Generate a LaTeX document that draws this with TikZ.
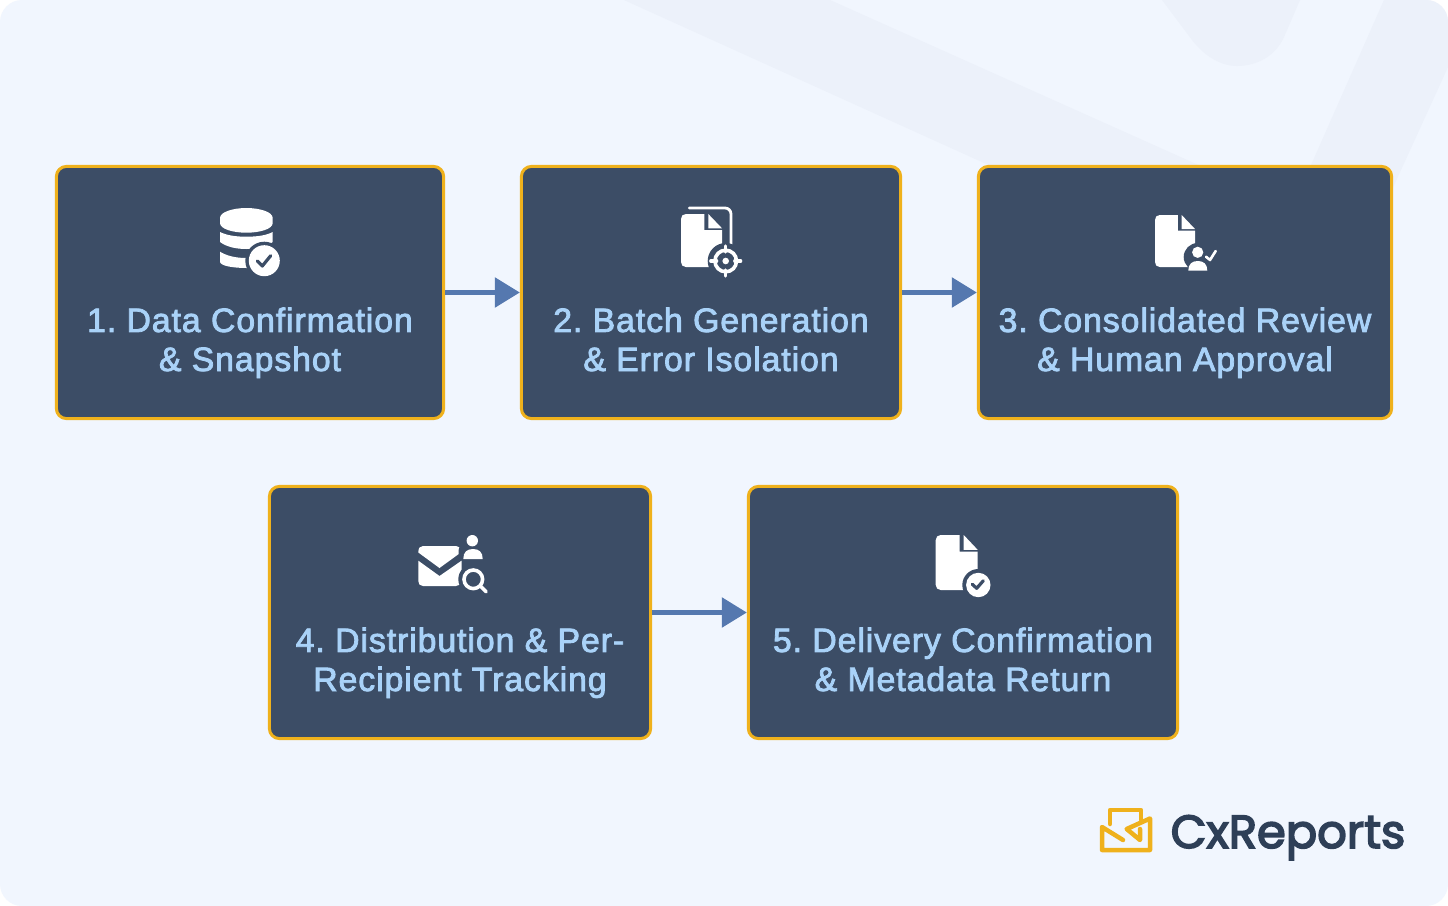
\documentclass[tikz,border=0pt]{standalone}
\usepackage{fontspec}
\usepackage{tikz}
\usetikzlibrary{arrows.meta}
\setmainfont{Liberation Sans}[FakeBold=2.4,LetterSpace=2.8]
\newfontfamily\logofont{Poppins}[FakeBold=3.5]
\definecolor{pagebg}{HTML}{F1F6FE}
\definecolor{pageband}{HTML}{ECF1FA}
\definecolor{boxfill}{HTML}{3C4D66}
\definecolor{boxedge}{HTML}{EFB11C}
\definecolor{boxtext}{HTML}{A9D2F8}
\definecolor{flowblue}{HTML}{5578AF}
\definecolor{logotext}{HTML}{2E3F57}
\tikzset{
  stepbox/.style={draw=boxedge, fill=boxfill, line width=0.03cm, rounded corners=0.1cm, minimum height=2.52cm},
  steplabel/.style={text=boxtext, font=\fontsize{9.6}{11.1}\selectfont\frenchspacing, align=center, inner sep=0pt, anchor=base},
  flow/.style={draw=flowblue, line width=0.053cm, -{Triangle[length=0.25cm,width=0.29cm]}},
  sheet/.style={fill=white, draw=none},
  cutout/.style={fill=boxfill, draw=none},
  tick/.style={draw=boxfill, line width=0.032cm, line cap=round, line join=round},
  logoline/.style={draw=boxedge, line width=0.045cm, line cap=round, line join=round}
}
% page of a document, w and h in px
\newcommand{\docsheet}[4]{
  \begin{scope}[shift={(#1,#2)}, xscale=#3/42, yscale=#4/53]
    \fill[sheet] (5,0) -- (24,0) -- (24,16) -- (42,16) -- (42,48) .. controls (42,51) and (40,53) .. (37,53)
      -- (5,53) .. controls (2,53) and (0,51) .. (0,48) -- (0,5) .. controls (0,2) and (2,0) .. (5,0) -- cycle;
    \fill[sheet] (28,0) -- (42,14.3) -- (28,14.3) -- cycle;
  \end{scope}
}
\begin{document}
\begin{tikzpicture}[x=0.01cm, y=-0.01cm]
  \useasboundingbox (0,0) rectangle (1448,906);
  % page and its faint bands
  \fill[white] (0,0) rectangle (1448,906);
  \begin{scope}
    \clip[rounded corners=0.22cm] (0,0) rectangle (1448,906);
    \fill[pagebg] (0,0) rectangle (1448,906);
    \fill[pageband] (624,0) -- (830,0) -- (1310,215) -- (1099,215) -- cycle;
    \fill[pageband] (1162,0) -- (1192,40) .. controls (1205,57) and (1222,66) .. (1237,66)
      .. controls (1258,66) and (1276,55) .. (1284,37) -- (1300,0) -- cycle;
    \fill[pageband] (1384,0) -- (1448,0) -- (1448,67) -- (1385,205) -- (1300,190) -- cycle;
  \end{scope}
  % boxes
  \node[stepbox, minimum width=3.87cm] (confirm) at (250,292.5) {};
  \node[stepbox, minimum width=3.79cm] (batch) at (711,292.5) {};
  \node[stepbox, minimum width=4.13cm] (review) at (1185,292.5) {};
  \node[stepbox, minimum width=3.81cm] (distrib) at (460,612.5) {};
  \node[stepbox, minimum width=4.29cm] (delivery) at (963,612.5) {};
  \draw[flow] (confirm) -- (batch);
  \draw[flow] (batch) -- (review);
  \draw[flow] (distrib) -- (delivery);
  % labels
  \node[steplabel] (confirmtext) at (250,371) {1. Data Confirmation\\\& Snapshot};
  \node[steplabel] (batchtext) at (711,371) {2. Batch Generation\\\& Error Isolation};
  \node[steplabel] (reviewtext) at (1185,371) {3. Consolidated Review\\\& Human Approval};
  \node[steplabel] (distribtext) at (460,691) {4. Distribution \& Per-\\Recipient Tracking};
  \node[steplabel] (deliverytext) at (963,691) {5. Delivery Confirmation\\\& Metadata Return};
  % database icon
  \fill[sheet] (220,218) .. controls (220,212) and (233,208) .. (246.3,208) .. controls (260,208) and (272.7,212) .. (272.7,218)
    -- (272.7,223) .. controls (272.7,229) and (260,232.7) .. (246.3,232.7) .. controls (233,232.7) and (220,229) .. (220,223) -- cycle;
  \fill[sheet] (220,232) .. controls (227,235.5) and (236,236.7) .. (246.3,236.7) .. controls (257,236.7) and (266,235.5) .. (272.7,232)
    -- (272.7,242) .. controls (266,247) and (257,249) .. (246.3,249) .. controls (236,249) and (227,247) .. (220,242) -- cycle;
  \fill[sheet] (220,251.7) .. controls (227,256) and (236,258) .. (246.3,258) -- (262,268) -- (246.3,268) .. controls (234,268) and (220,266) .. (220,261.7) -- cycle;
  \fill[cutout] (264.3,260.7) circle (19);
  \fill[sheet] (264.3,260.7) circle (15.5);
  \draw[tick] (257.3,261) -- (262.3,266) -- (270.7,255.7);
  % sheet with crosshair icon
  \draw[white, line width=0.028cm, line cap=round, rounded corners=0.06cm] (689.3,208) -- (731,208) -- (731,245);
  \docsheet{681}{214}{41}{53}
  \fill[cutout] (725.7,261) circle (18);
  \draw[white, line width=0.036cm] (725.7,261) circle (10.8);
  \fill[sheet] (725.7,261) circle (3.3);
  \draw[white, line width=0.032cm, line cap=round] (725.7,246) -- (725.7,252) (725.7,270) -- (725.7,276) (710.7,261) -- (716.7,261) (734.7,261) -- (740.7,261);
  % sheet with person icon
  \docsheet{1155}{215}{40}{52}
  \fill[cutout] (1197.7,257) circle (14);
  \fill[sheet] (1197.7,252.3) circle (5.6);
  \fill[sheet] (1188.3,270.7) .. controls (1188.3,264) and (1192,261) .. (1197.8,261) .. controls (1203.6,261) and (1207.3,264) .. (1207.3,270.7) -- cycle;
  \draw[white, line width=0.026cm, line cap=round, line join=round] (1206,256.7) -- (1210,260) -- (1215.7,251);
  % envelope icon
  \fill[sheet] (423,546) -- (456,546) .. controls (459,546) and (461.5,548) .. (461.5,552) -- (439.5,568) -- (418.3,552.5) .. controls (418.3,548) and (420,546) .. (423,546) -- cycle;
  \fill[sheet] (418.3,560.7) -- (439.5,576) -- (461.5,560.7) -- (461.5,581) .. controls (461.5,584) and (459,586) .. (456,586) -- (423,586) .. controls (420,586) and (418.3,584) .. (418.3,581) -- cycle;
  \fill[cutout] (472,552) circle (13.5);
  \fill[cutout] (473.3,579.3) circle (15);
  \fill[sheet] (472.3,540.7) circle (5.7);
  \fill[sheet] (463.3,559) .. controls (463.3,552) and (467,549) .. (473,549) .. controls (479,549) and (482.7,552) .. (482.7,559) -- cycle;
  \draw[white, line width=0.036cm] (473.3,579.3) circle (9.3);
  \draw[white, line width=0.036cm, line cap=round] (481,586.7) -- (486.2,591.8);
  % sheet with check icon
  \docsheet{935.7}{535}{42}{55}
  \fill[cutout] (978.3,585) circle (16);
  \fill[sheet] (978.3,585) circle (12.2);
  \draw[tick] (972.3,584.3) -- (976.7,588.3) -- (983.3,580.7);
  % logo
  \draw[logoline] (1110,824) -- (1110,810) -- (1141,810) -- (1141,820);
  \draw[logoline] (1123,840) -- (1102,827) -- (1102,850) -- (1150,850) -- (1150,818.5) -- (1126.7,829) -- (1140,840) -- (1140,829);
  \node[text=logotext, inner sep=0pt, anchor=base west, font=\logofont\fontsize{13.2}{15}\selectfont] (logotitle) at (1170,848) {CxReports};
\end{tikzpicture}
\end{document}
